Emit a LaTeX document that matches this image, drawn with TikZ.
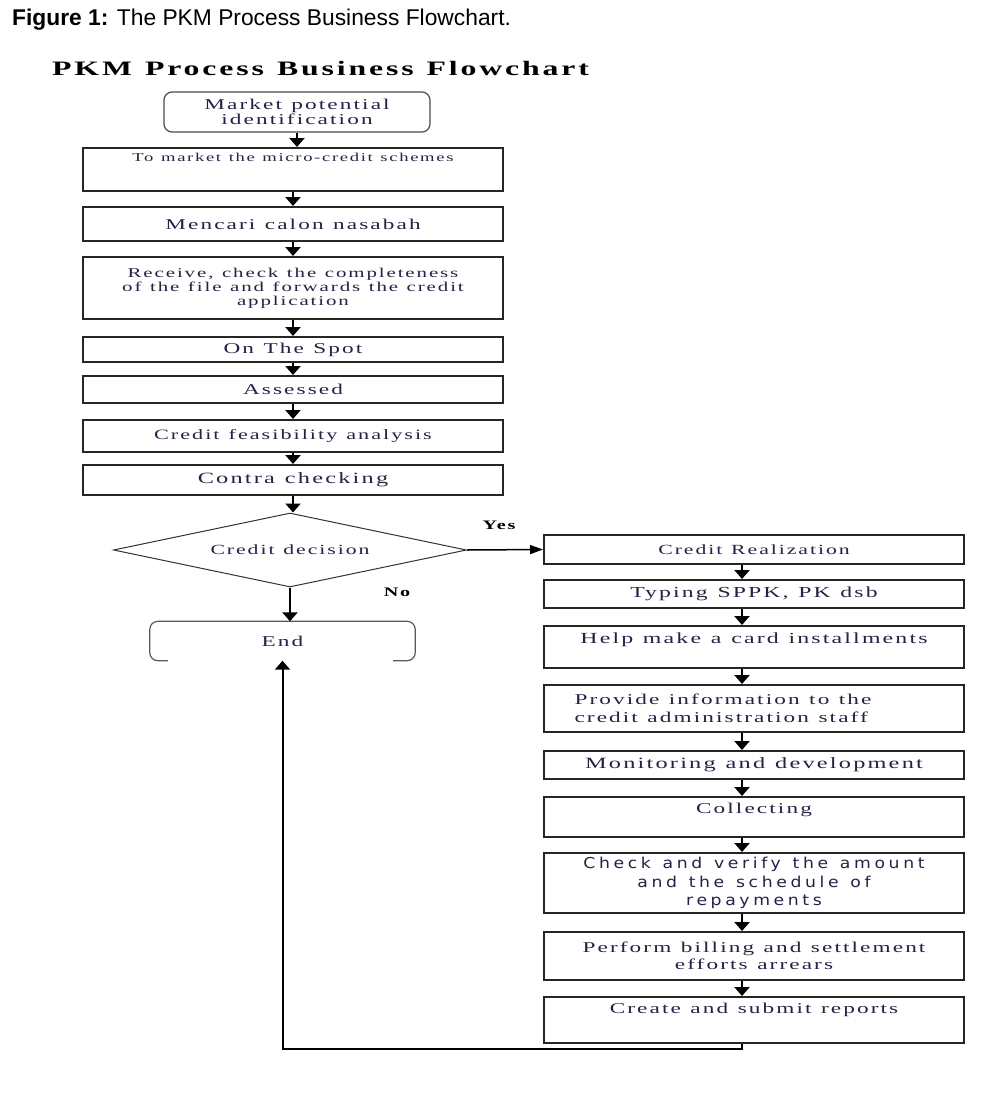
\documentclass[tikz,border=0pt]{standalone}
\usepackage{fontspec}
\setmainfont{Liberation Serif}
\newfontfamily\boxfont[FakeStretch=1.55,LetterSpace=14,WordSpace=1.2]{Liberation Serif}
\newfontfamily\verifyfont[FakeStretch=1.15,LetterSpace=24,WordSpace=1.3]{DejaVu Sans}
\newfontfamily\capfont{Liberation Sans}
\usetikzlibrary{shapes.geometric,arrows.meta}
\definecolor{inkblue}{RGB}{35,35,70}

\begin{document}
\begin{tikzpicture}
[x=1pt,y=-1pt,%
  every node/.style={text=inkblue,inner sep=3pt,font=\boxfont\fontsize{15}{15}\selectfont},%
  stepbox/.style={rectangle,draw=black!85,line width=2pt,minimum width=420pt,align=center},%
  termbox/.style={rectangle,rounded corners=8pt,draw=black!70,line width=1.2pt,minimum width=266pt,align=center},%
  endbox/.style={rectangle,minimum width=265pt,minimum height=39pt},%
  decide/.style={diamond,aspect=4.8,draw=black!80,line width=1pt,minimum width=353pt,minimum height=74pt,inner sep=0pt},%
  flow/.style={-{Triangle[width=15pt,length=9pt]},line width=2.5pt},%
  tag/.style={font=\boxfont\bfseries\fontsize{13}{13}\selectfont,text=black}]
\path[use as bounding box,fill=white] (0,0) rectangle (1005,1096);

% titles
\node[anchor=base west,text=black,font=\capfont\fontsize{22.8}{26}\selectfont,inner sep=0pt] (fig) at (12,25)
  {\textbf{Figure 1:} The PKM Process Business Flowchart.};
\node[anchor=base west,text=black,font=\boxfont\bfseries\fontsize{20.5}{24}\selectfont,inner sep=0pt] (head) at (52,75)
  {PKM Process Business Flowchart};

% left column
\node[termbox,minimum height=40pt] (start) at (297,112) {\mbox{}\\[-5pt]Market potential\\identification};
\node[stepbox,minimum height=43pt,font=\boxfont\fontsize{12}{12}\selectfont,text height=7.5pt,text depth=23pt] (market) at (293,169.5)
  {To market the micro-credit schemes};
\node[stepbox,minimum height=34pt] (seek) at (293,224) {Mencari calon nasabah};
\node[stepbox,minimum height=62pt,font=\boxfont\fontsize{13.5}{14}\selectfont] (receive) at (293,288)
  {Receive, check the completeness\\of the file and forwards the credit\\application};
\node[stepbox,minimum height=25pt,inner ysep=1pt] (spot) at (293,349.5) {On The Spot};
\node[stepbox,minimum height=27pt] (assess) at (293,389.5) {Assessed};
\node[stepbox,minimum height=32pt,font=\boxfont\fontsize{14.3}{14}\selectfont] (feasible) at (293,436)
  {Credit feasibility analysis};
\node[stepbox,minimum height=30pt,font=\boxfont\fontsize{15.7}{16}\selectfont] (contra) at (293,480) {Contra checking};
\node[decide,font=\boxfont\fontsize{14}{14}\selectfont] (decision) at (290,550) {Credit decision};
\node[endbox] (stop) at (282.5,641) {End};
\draw[draw=black!65,line width=1.2pt,rounded corners=8pt] ([xshift=18pt]stop.south west) -- (stop.south west)
  -- (stop.north west) -- (stop.north east) -- (stop.south east) -- ([xshift=-22pt]stop.south east);

% right column
\node[stepbox,minimum height=29pt,font=\boxfont\fontsize{14}{14}\selectfont] (real) at (754,549.5) {Credit Realization};
\node[stepbox,minimum height=28pt,font=\boxfont\fontsize{15.3}{16}\selectfont] (typing) at (754,594) {Typing SPPK, PK dsb};
\node[stepbox,minimum height=42pt,font=\boxfont\fontsize{15.4}{16}\selectfont,text height=10pt,text depth=17pt] (card) at (754,647)
  {Help make a card installments};
\node[stepbox,minimum height=47pt,align=left,font=\boxfont\fontsize{15}{18}\selectfont] (inform) at (754,708.5)
  {Provide information to the\hspace*{62pt}\\credit administration staff\hspace*{62pt}};
\node[stepbox,minimum height=28pt,font=\boxfont\fontsize{15.7}{16}\selectfont] (monitor) at (754,765) {Monitoring and development};
\node[stepbox,minimum height=40pt,text height=10pt,text depth=17pt] (collect) at (754,817) {Collecting};
\node[stepbox,minimum height=60pt,inner ysep=0pt,font=\verifyfont\fontsize{15}{18.5}\selectfont] (verify) at (754,883)
  {Check and verify the amount\\and the schedule of\\repayments};
\node[stepbox,minimum height=48pt,font=\boxfont\fontsize{15}{17}\selectfont] (billing) at (754,956)
  {Perform billing and settlement\\efforts arrears};
\node[stepbox,minimum height=46pt,text height=10pt,text depth=23pt] (report) at (754,1020) {Create and submit reports};

% labels
\node[tag] (yes) at (499,525) {Yes};
\node[tag] (no) at (397,592) {No};

% connectors
\foreach \a/\b in {start/market,market/seek,seek/receive,receive/spot,spot/assess,assess/feasible,feasible/contra,contra/decision}
  \draw[flow] (\a.south) -- (\a.south |- \b.north);
\foreach \a/\b in {real/typing,typing/card,card/inform,inform/monitor,monitor/collect,collect/verify,verify/billing,billing/report}
  \draw[flow] ([xshift=-12pt]\a.south) -- ([xshift=-12pt]\a.south |- \b.north);
\draw[flow] (decision.south) -- (decision.south |- stop.north);
\draw[-{Triangle[width=9pt,length=13pt]},line width=1.5pt] (decision.east) -- (real.west);
\draw[flow,line width=2pt] ([xshift=-12pt]report.south) -- ++(0,5) -| (stop.south);
\end{tikzpicture}
\end{document}
